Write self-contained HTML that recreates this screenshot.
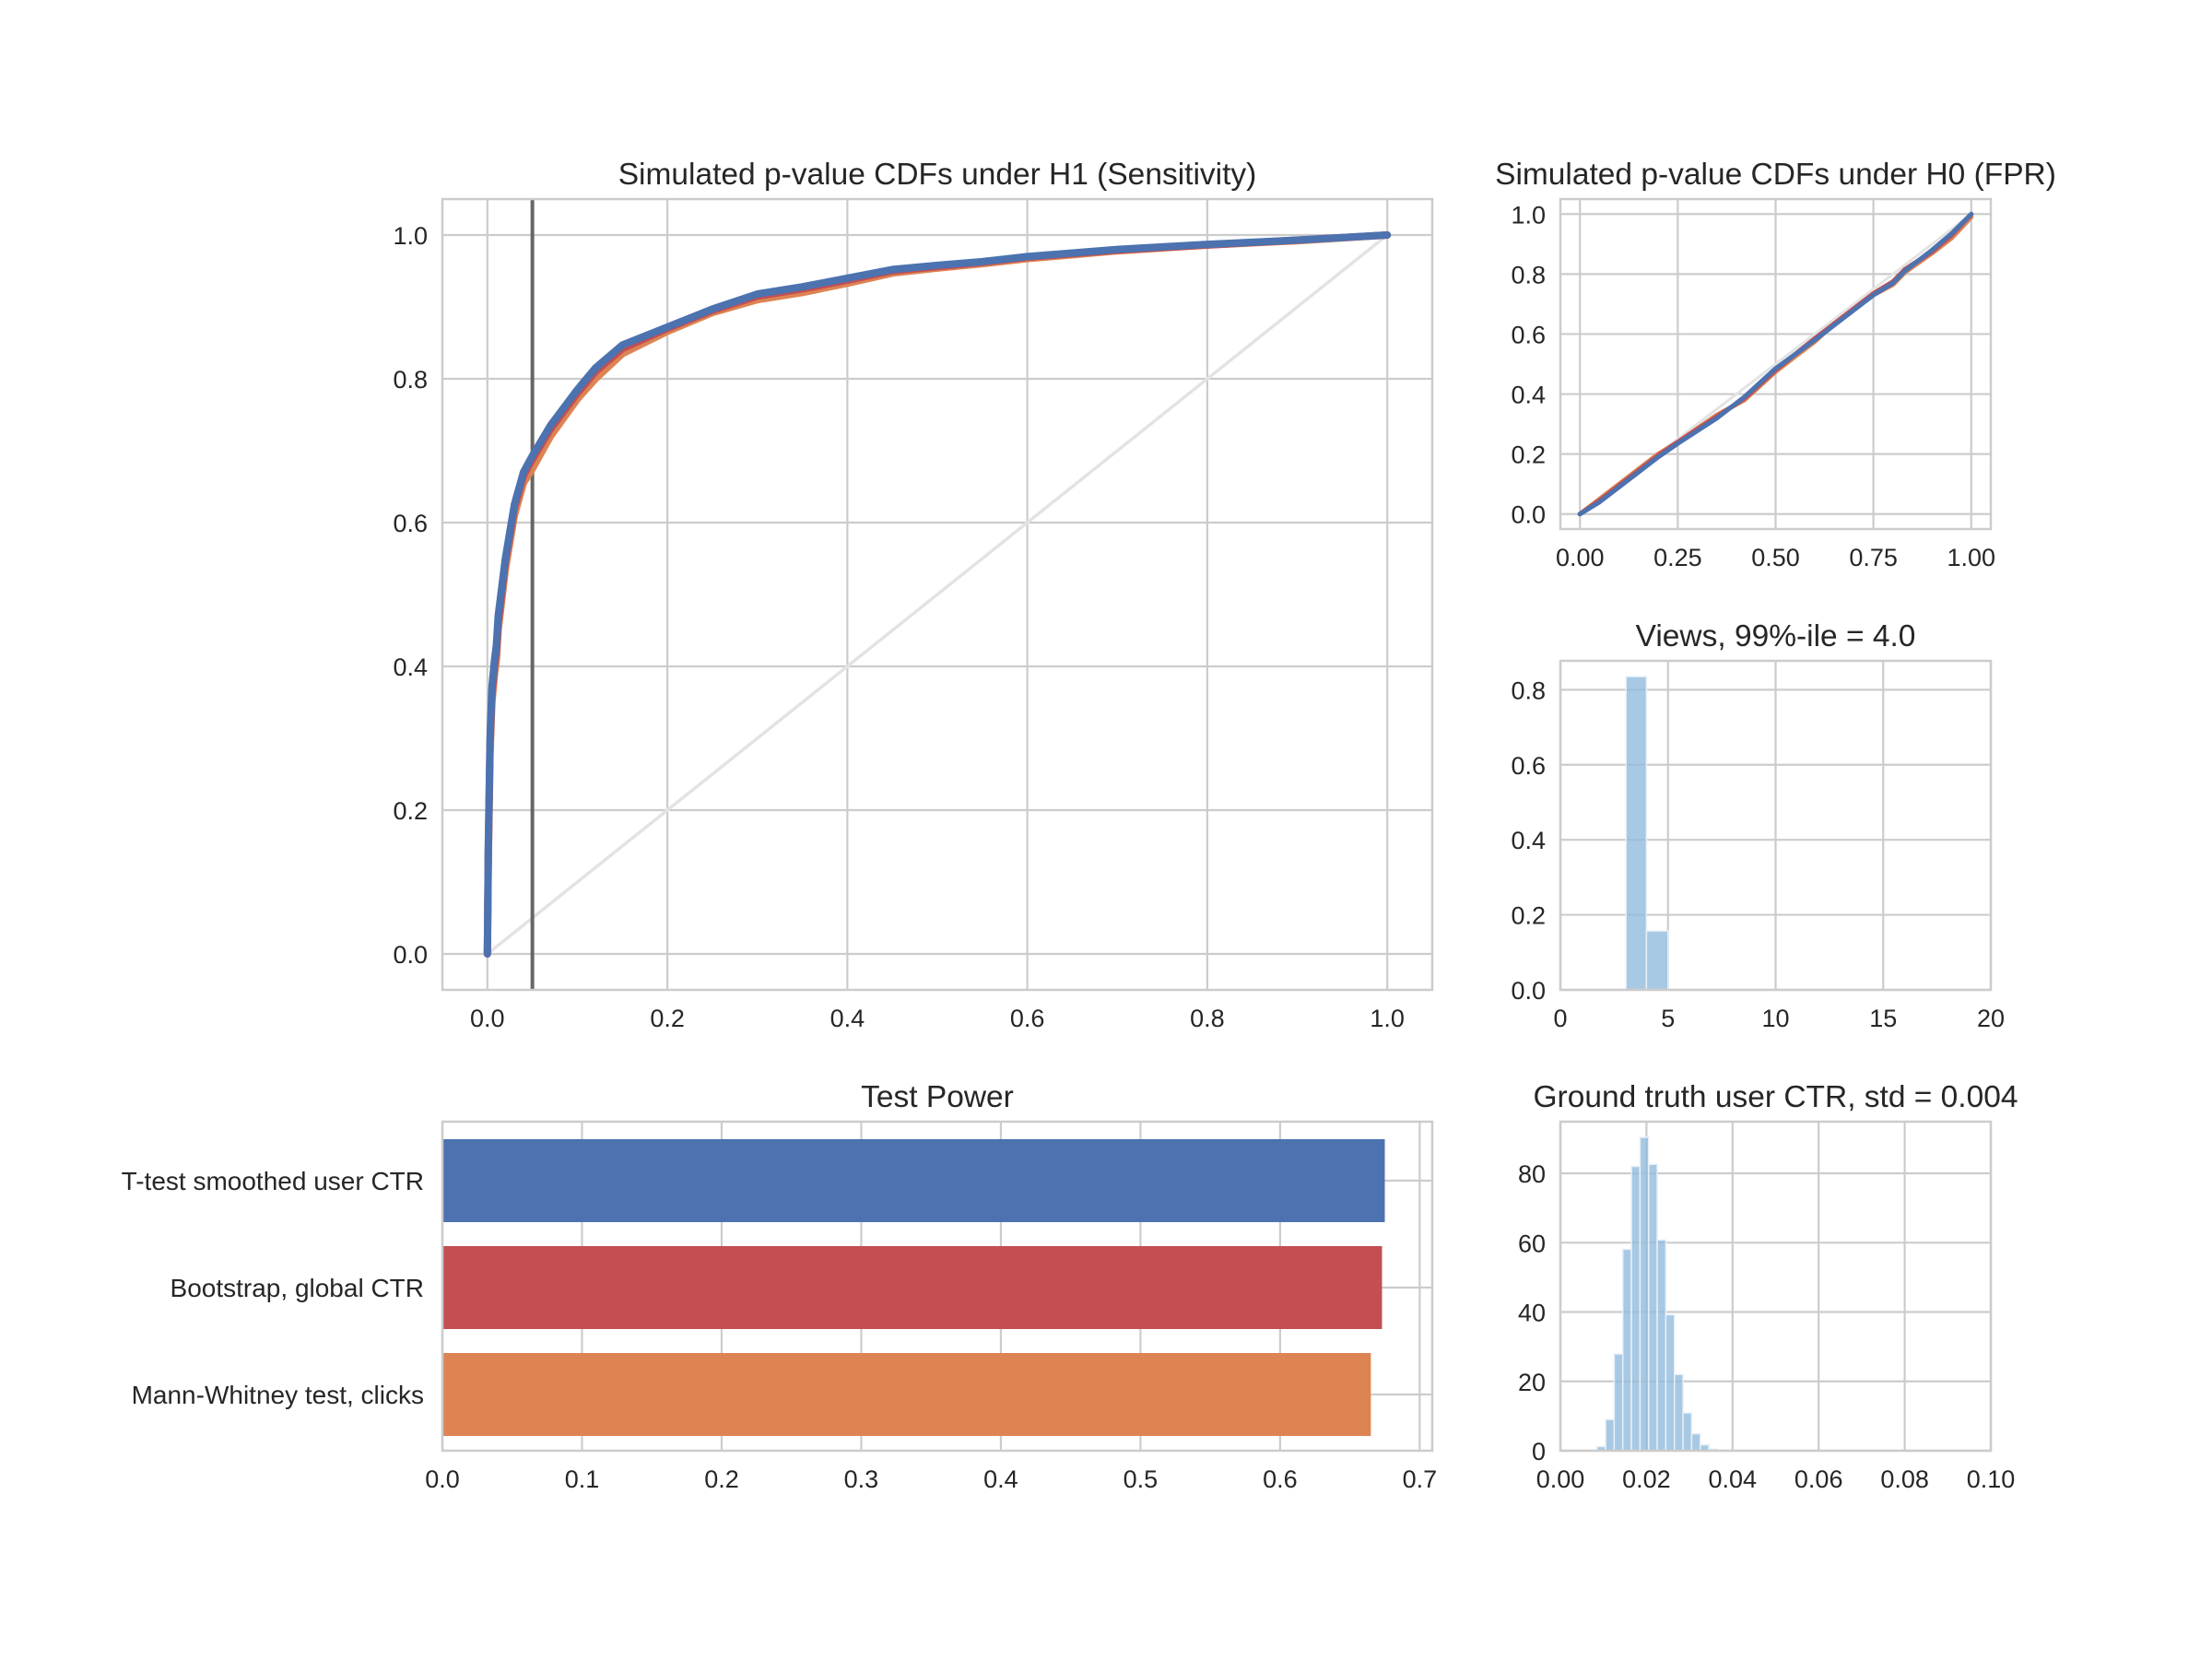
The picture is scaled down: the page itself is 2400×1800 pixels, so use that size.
<!DOCTYPE html>
<html><head><meta charset="utf-8"><style>
html,body{margin:0;padding:0;background:#fff;}
svg{display:block;font-family:"Liberation Sans",Arial,sans-serif;}
</style></head><body>
<svg id="fig" width="2400" height="1800" viewBox="0 0 2400 1800" xmlns="http://www.w3.org/2000/svg">
<rect width="2400" height="1800" fill="#fff"/>
</svg>
<script>
// ---- data ----
const h1X = [0,0.001,0.003,0.005,0.008,0.01,0.012,0.02,0.03,0.04,0.05,0.07,0.1,0.12,0.15,0.2,0.25,0.3,0.35,0.4,0.45,0.5,0.55,0.6,0.7,0.8,0.9,1.0];
const h1Blue = [0,0.15,0.30,0.37,0.41,0.43,0.47,0.55,0.625,0.67,0.693,0.735,0.785,0.815,0.847,0.872,0.897,0.918,0.928,0.94,0.952,0.958,0.963,0.970,0.980,0.987,0.993,1.0];
const h1Red = [0,0.14,0.29,0.36,0.40,0.42,0.46,0.545,0.62,0.665,0.688,0.73,0.78,0.81,0.842,0.87,0.895,0.915,0.925,0.937,0.95,0.956,0.962,0.969,0.979,0.986,0.993,1.0];
const h1Orange = [0,0.13,0.28,0.35,0.39,0.41,0.45,0.535,0.61,0.655,0.675,0.72,0.772,0.80,0.835,0.866,0.892,0.91,0.92,0.933,0.947,0.954,0.960,0.967,0.978,0.986,0.992,1.0];
const h0X = [0,0.05,0.1,0.2,0.25,0.35,0.42,0.5,0.6,0.65,0.75,0.8,0.83,0.9,0.95,1.0];
const h0Blue = [0,0.04,0.09,0.19,0.235,0.32,0.39,0.485,0.58,0.63,0.73,0.77,0.81,0.88,0.935,1.0];
const h0Red = [0,0.045,0.095,0.195,0.24,0.325,0.385,0.48,0.585,0.635,0.735,0.775,0.815,0.875,0.93,1.0];
const h0Orange = [0,0.05,0.1,0.2,0.24,0.33,0.38,0.475,0.575,0.635,0.73,0.765,0.805,0.87,0.92,0.99];
const viewEdges = [3.05,4.0,5.0];
const viewHeights = [0.835,0.157];
const ctrStart = 0.0085;
const ctrWidth = 0.002;
const ctrHeights = [1.2,9.0,27.9,58.1,82,90.4,82.6,60.8,39.2,22,10.9,4.9,1.7,0.5,0.2];
const powerLabels = ["T-test smoothed user CTR","Bootstrap, global CTR","Mann-Whitney test, clicks"];
const powerValues = [0.675,0.673,0.665];
const powerColors = ["#4c72b0","#c44e52","#dd8452"];
const mainTicksX = [0,0.2,0.4,0.6,0.8,1.0];
const mainTicksY = [0,0.2,0.4,0.6,0.8,1.0];
const h0TicksX = [0,0.25,0.5,0.75,1.0];
const h0TicksY = [0,0.2,0.4,0.6,0.8,1.0];
const viewTicksX = [0,5,10,15,20];
const viewTicksY = [0,0.2,0.4,0.6,0.8];
const ctrTicksX = [0,0.02,0.04,0.06,0.08,0.1];
const ctrTicksY = [0,20,40,60,80];
const powerTicksX = [0,0.1,0.2,0.3,0.4,0.5,0.6,0.7];

const NS = "http://www.w3.org/2000/svg";
const svg = document.getElementById('fig');
function mk(tag, attrs, parent){
  const e = document.createElementNS(NS, tag);
  for (const k in attrs) e.setAttribute(k, attrs[k]);
  (parent||svg).appendChild(e);
  return e;
}
function axes(name, L, R, T, B, x0, x1, y0, y1, title){
  const g = mk('g', {});
  
  
  const sx = v => L + (v - x0) / (x1 - x0) * (R - L);
  const sy = v => B - (v - y0) / (y1 - y0) * (B - T);
  const t = mk('text', {x:(L+R)/2, y:T-16, 'text-anchor':'middle', 'font-size':33.5, fill:'#262626'}, g);
  t.textContent = title;
  
  
  return {g, sx, sy, L, R, T, B};
}
function grid(ax, tx, ty, fmtX, fmtY, gridX){
  for (const v of tx){
    const x = ax.sx(v);
    if (gridX !== false) mk('line', {x1:x, x2:x, y1:ax.T, y2:ax.B, stroke:'#cccccc', 'stroke-width':2.2}, ax.g);
    const t = mk('text', {x:x, y:ax.B+40, 'text-anchor':'middle', 'font-size':27, fill:'#262626'}, ax.g);
    t.textContent = fmtX(v);
    
    
  }
  for (const v of ty){
    const y = ax.sy(v);
    mk('line', {x1:ax.L, x2:ax.R, y1:y, y2:y, stroke:'#cccccc', 'stroke-width':2.2}, ax.g);
    const t = mk('text', {x:ax.L-16, y:y+10, 'text-anchor':'end', 'font-size':27, fill:'#262626'}, ax.g);
    t.textContent = fmtY(v);
    
    
  }
}
function frame(ax){
  const r = mk('rect', {x:ax.L, y:ax.T, width:ax.R-ax.L, height:ax.B-ax.T, fill:'none', stroke:'#cccccc', 'stroke-width':2.5}, ax.g);
  
  
}
function line(ax, xs, ys, color, w, name){
  const d = xs.map((v,i)=>(i?'L':'M')+ax.sx(v).toFixed(1)+','+ax.sy(ys[i]).toFixed(1)).join('');
  const p = mk('path', {d:d, fill:'none', stroke:color, 'stroke-width':w, 'stroke-linejoin':'round', 'stroke-linecap':'round'}, ax.g);
  
  
}
const f1 = v => v.toFixed(1), f2 = v => v.toFixed(2), f0 = v => String(v);

// ---- Main H1 ----
const a1 = axes('h1-cdf-chart', 480, 1554, 216, 1074, -0.05, 1.05, -0.05, 1.05, 'Simulated p-value CDFs under H1 (Sensitivity)');
grid(a1, mainTicksX, mainTicksY, f1, f1);
line(a1, [0,1], [0,1], '#e3e3e3', 3.5, 'diagonal-reference');
const vl = mk('line', {x1:a1.sx(0.05), x2:a1.sx(0.05), y1:a1.T, y2:a1.B, stroke:'#666666', 'stroke-width':4}, a1.g);


line(a1, h1X, h1Orange, '#dd8452', 8, 'h1-mann-whitney-line');
line(a1, h1X, h1Red, '#c44e52', 8, 'h1-bootstrap-line');
line(a1, h1X, h1Blue, '#4c72b0', 8, 'h1-ttest-line');
frame(a1);

// ---- H0 ----
const a2 = axes('h0-cdf-chart', 1693, 2160, 216, 574, -0.05, 1.05, -0.05, 1.05, 'Simulated p-value CDFs under H0 (FPR)');
grid(a2, h0TicksX, h0TicksY, f2, f1);
line(a2, [0,1], [0,1], '#e3e3e3', 3, 'h0-diagonal-reference');
line(a2, h0X, h0Orange, '#dd8452', 5, 'h0-mann-whitney-line');
line(a2, h0X, h0Red, '#c44e52', 5, 'h0-bootstrap-line');
line(a2, h0X, h0Blue, '#4c72b0', 5, 'h0-ttest-line');
frame(a2);

// ---- Views hist ----
const a3 = axes('views-histogram', 1693, 2160, 717, 1074, 0, 20, 0, 0.877, 'Views, 99%-ile = 4.0');
grid(a3, viewTicksX, viewTicksY, f0, f1);
viewHeights.forEach((h,i)=>{
  const x = a3.sx(viewEdges[i]), x2 = a3.sx(viewEdges[i+1]);
  const r = mk('rect', {x:x, y:a3.sy(h), width:x2-x, height:a3.sy(0)-a3.sy(h), fill:'#92bcdc', 'fill-opacity':0.8, stroke:'#e8f0f8', 'stroke-width':1.5}, a3.g);
  
  
});
frame(a3);

// ---- Power bars ----
const a4 = axes('test-power-chart', 480, 1554, 1217, 1574, 0, 0.709, 0, 1, 'Test Power');
for (const v of powerTicksX){
  const x = a4.sx(v);
  mk('line', {x1:x, x2:x, y1:a4.T, y2:a4.B, stroke:'#cccccc', 'stroke-width':2.2}, a4.g);
  const t = mk('text', {x:x, y:a4.B+40, 'text-anchor':'middle', 'font-size':27, fill:'#262626'}, a4.g);
  t.textContent = f1(v);
  
  
}
const unit = 116, cy0 = 1281;
powerValues.forEach((v,i)=>{
  const cy = cy0 + i*unit;
  mk('line', {x1:a4.L, x2:a4.R, y1:cy, y2:cy, stroke:'#cccccc', 'stroke-width':2.2}, a4.g);
  const r = mk('rect', {x:a4.sx(0), y:cy-45, width:a4.sx(v)-a4.sx(0), height:90, fill:powerColors[i]}, a4.g);
  
  
  const t = mk('text', {x:460, y:cy+10, 'text-anchor':'end', 'font-size':28, fill:'#262626'}, a4.g);
  t.textContent = powerLabels[i];
  
  
});
frame(a4);

// ---- CTR hist ----
const a5 = axes('ctr-histogram', 1693, 2160, 1217, 1574, 0, 0.1, 0, 94.9, 'Ground truth user CTR, std = 0.004');
grid(a5, ctrTicksX, ctrTicksY, f2, f0);
ctrHeights.forEach((h,i)=>{
  const x = a5.sx(ctrStart + i*ctrWidth), x2 = a5.sx(ctrStart + (i+1)*ctrWidth);
  const r = mk('rect', {x:x, y:a5.sy(h), width:x2-x, height:a5.sy(0)-a5.sy(h), fill:'#92bcdc', 'fill-opacity':0.8, stroke:'#e8f0f8', 'stroke-width':1.5}, a5.g);
  
  
});
frame(a5);
</script>
</body></html>
